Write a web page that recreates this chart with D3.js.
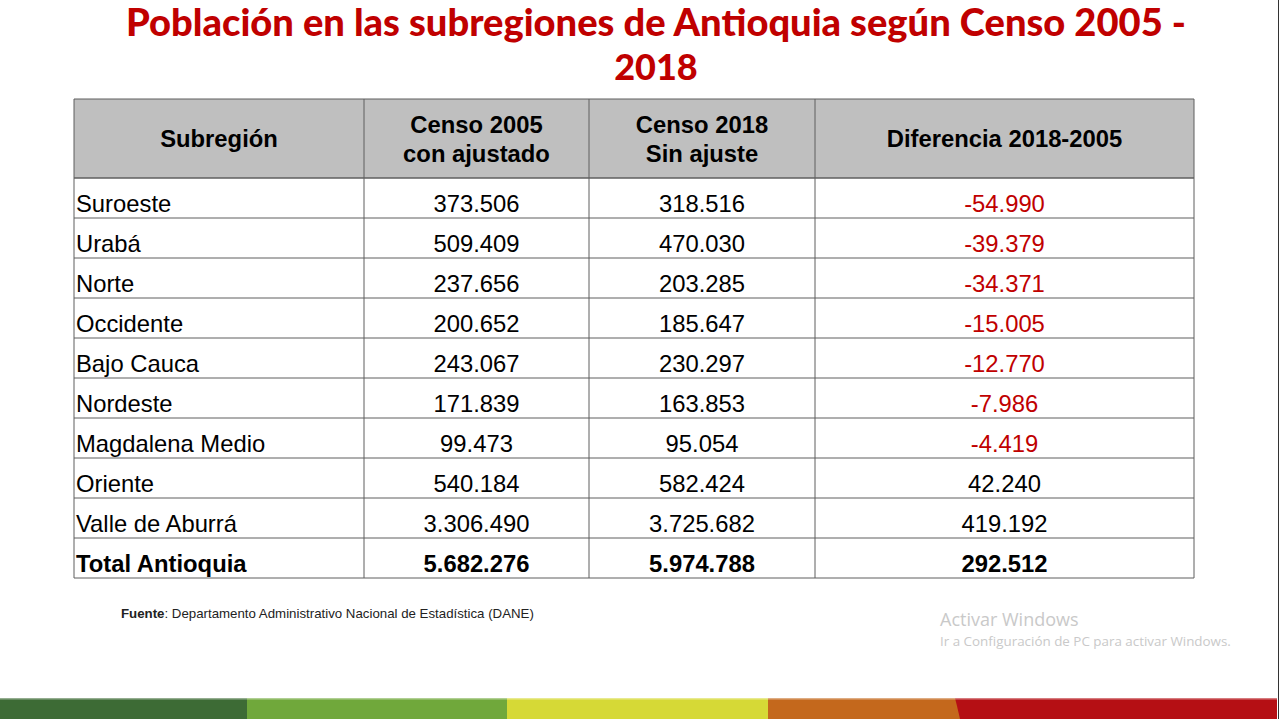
<!DOCTYPE html>
<html>
<head>
<meta charset="utf-8">
<script src="https://cdn.jsdelivr.net/npm/d3@7"></script>
<style>
  html, body { margin: 0; padding: 0; background: #fff; overflow: hidden; }
  svg { display: block; }
  text { font-family: "Liberation Sans", Arial, sans-serif; }
</style>
</head>
<body>
<svg id="chart" width="1280" height="719"></svg>
<script>
const titleLines = ["Población en las subregiones de Antioquia según Censo 2005 -", "2018"];
const headers = [["Subregión"], ["Censo 2005", "con ajustado"], ["Censo 2018", "Sin ajuste"], ["Diferencia 2018-2005"]];
const subregions = ["Suroeste", "Urabá", "Norte", "Occidente", "Bajo Cauca", "Nordeste", "Magdalena Medio", "Oriente", "Valle de Aburrá", "Total Antioquia"];
const censo2005 = ["373.506", "509.409", "237.656", "200.652", "243.067", "171.839", "99.473", "540.184", "3.306.490", "5.682.276"];
const censo2018 = ["318.516", "470.030", "203.285", "185.647", "230.297", "163.853", "95.054", "582.424", "3.725.682", "5.974.788"];
const diferencia = ["-54.990", "-39.379", "-34.371", "-15.005", "-12.770", "-7.986", "-4.419", "42.240", "419.192", "292.512"];
const bandColors = ["#3d6b35", "#70a83b", "#d6d936", "#c4681c", "#b50f14"];
const bandEdges = [0, 247, 507, 768, 957, 1277];

const svg = d3.select("#chart");
const colEdges = [74, 364, 589, 815, 1194];
const headTop = 99, headBottom = 178, tableBottom = 578;

const y = d3.scaleBand().domain(subregions).range([headBottom, tableBottom]);

// title
svg.selectAll(".title")
  .data(titleLines)
  .enter()
  .append("text")
  .attr("class", "title")
  .attr("x", 656)
  .attr("y", (d, i) => 36 + i * 44)
  .attr("text-anchor", "middle")
  .style("font-family", "Lato, sans-serif")
  .style("font-weight", "900")
  .style("font-size", (d, i) => i == 0 ? "38.1px" : "36px")
  .attr("fill", "#c00000")
  .text(d => d);

// header background
svg.append("rect")
  .attr("x", colEdges[0])
  .attr("y", headTop)
  .attr("width", colEdges[4] - colEdges[0])
  .attr("height", headBottom - headTop)
  .attr("fill", "#bfbfbf");

// header text
headers.forEach(function(lines, c) {
  let cx = (colEdges[c] + colEdges[c + 1]) / 2;
  let y0 = lines.length == 1 ? 147 : 133;
  svg.selectAll(".head" + c)
    .data(lines)
    .enter()
    .append("text")
    .attr("x", cx)
    .attr("y", (d, i) => y0 + i * 29)
    .attr("text-anchor", "middle")
    .style("font-weight", "bold")
    .style("font-size", "23.8px")
    .attr("fill", "#000")
    .text(d => d);
});

// rows
const columns = [censo2005, censo2018, diferencia];
subregions.forEach(function(name, r) {
  let isTotal = r == subregions.length - 1;
  let base = y(name) + y.bandwidth() / 2 + 14.4;
  svg.append("text")
    .attr("x", 76)
    .attr("y", base)
    .style("font-size", "23.8px")
    .style("font-weight", isTotal ? "bold" : "normal")
    .attr("fill", "#000")
    .text(name);
  columns.forEach(function(col, c) {
    let neg = col[r].charAt(0) == "-";
    svg.append("text")
      .attr("x", (colEdges[c + 1] + colEdges[c + 2]) / 2)
      .attr("y", base)
      .attr("text-anchor", "middle")
      .style("font-size", "23.8px")
      .style("font-weight", isTotal ? "bold" : "normal")
      .attr("fill", neg ? "#c00000" : "#000")
      .text(col[r]);
  });
});

// grid lines
svg.selectAll(".rowline")
  .data(subregions.slice(1))
  .enter()
  .append("line")
  .attr("class", "rowline")
  .attr("x1", colEdges[0])
  .attr("x2", colEdges[4])
  .attr("y1", d => y(d))
  .attr("y2", d => y(d))
  .attr("stroke", "#5f5f5f")
  .attr("stroke-width", 1);

svg.selectAll(".colline")
  .data(colEdges)
  .enter()
  .append("line")
  .attr("class", "colline")
  .attr("x1", d => d)
  .attr("x2", d => d)
  .attr("y1", headTop)
  .attr("y2", tableBottom)
  .attr("stroke", "#5f5f5f")
  .attr("stroke-width", 1);

[headTop, headBottom, tableBottom].forEach(function(v) {
  svg.append("line")
    .attr("x1", colEdges[0])
    .attr("x2", colEdges[4])
    .attr("y1", v)
    .attr("y2", v)
    .attr("stroke", "#5f5f5f")
    .attr("stroke-width", v == headBottom ? 1.5 : 1);
});

// source
let fuente = svg.append("text")
  .attr("x", 121)
  .attr("y", 618)
  .style("font-size", "13.27px")
  .attr("fill", "#222");
fuente.append("tspan").style("font-weight", "bold").text("Fuente");
fuente.append("tspan").text(": Departamento Administrativo Nacional de Estadística (DANE)");

// windows watermark
svg.append("text")
  .attr("x", 940)
  .attr("y", 626)
  .style("font-family", "'Open Sans', sans-serif")
  .style("font-size", "18px")
  .attr("fill", "#c9c9c9")
  .text("Activar Windows");
svg.append("text")
  .attr("x", 940)
  .attr("y", 646)
  .style("font-family", "'Open Sans', sans-serif")
  .style("font-size", "13.4px")
  .attr("fill", "#c9c9c9")
  .text("Ir a Configuración de PC para activar Windows.");

// bottom colour band
svg.selectAll(".band")
  .data(bandColors)
  .enter()
  .append("rect")
  .attr("class", "band")
  .attr("x", (d, i) => bandEdges[i])
  .attr("y", 698)
  .attr("width", (d, i) => bandEdges[i + 1] - bandEdges[i])
  .attr("height", 21)
  .attr("fill", d => d);

// the orange/red edge leans a little
svg.append("path")
  .attr("d", "M957,706L960,719L957,719Z")
  .attr("fill", bandColors[3]);
svg.append("path")
  .attr("d", "M955,698L957,698L957,706Z")
  .attr("fill", bandColors[4]);

// soft top edge of the band
svg.append("rect")
  .attr("x", 0)
  .attr("y", 698)
  .attr("width", bandEdges[5])
  .attr("height", 1.5)
  .attr("fill", "#fff")
  .attr("opacity", 0.45);

// dark edge on the right of the screenshot
svg.append("line")
  .attr("x1", 1278.5)
  .attr("x2", 1278.5)
  .attr("y1", 0)
  .attr("y2", 719)
  .attr("stroke", "#333")
  .attr("stroke-width", 1);
</script>
</body>
</html>
